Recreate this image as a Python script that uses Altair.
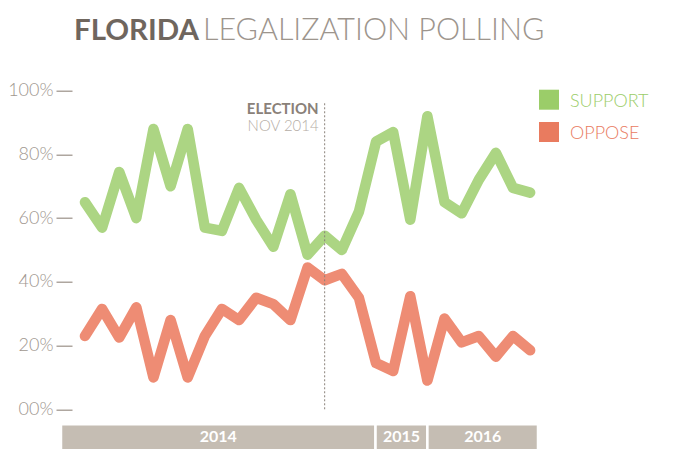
import altair as alt
import pandas as pd

# ---- data ----
poll_index = list(range(27))
support = [65, 57, 74.5, 60, 88, 70, 88, 57, 56, 69.5, 59.5, 51, 67.5, 48.5, 54.5,
           50, 62, 84, 87, 59.5, 92, 65, 61.5, 72, 80.5, 69.5, 68]
oppose = [23, 31.5, 22.5, 32, 10, 28, 10, 23, 31.5, 28, 35, 33, 28, 44.5, 40.5,
          42.5, 35, 14.5, 12, 35.5, 9, 28.5, 21, 23, 16.5, 23, 18.5]

years = ["2014", "2015", "2016"]
year_start = [-1.4, 16.97, 20.0]
year_end = [16.97, 20.0, 26.46]

election_index = 14
y_ticks = [0, 20, 40, 60, 80, 100]

GREEN_LINE = "#acd583"
RED_LINE = "#ee8c74"
GREEN = "#9bcd69"
RED = "#e97b5f"
BAR = "#c5bdb3"
FONT = "Lato"

df = pd.DataFrame({
    "i": poll_index * 2,
    "pct": support + oppose,
    "series": ["SUPPORT"] * 27 + ["OPPOSE"] * 27,
})
years_df = pd.DataFrame({"year": years, "start": year_start, "end": year_end,
                         "top": [-4.7] * 3, "bottom": [-14] * 3, "ty": [-10.3] * 3})
years_df["mid"] = (years_df["start"] + years_df["end"]) / 2
election_df = pd.DataFrame({"i": [election_index], "y0": [0], "y1": [96.5]})

xscale = alt.Scale(domain=[-1.4, 26.46], nice=False, zero=False)
yscale = alt.Scale(domain=[-12.5, 100], nice=False, zero=False)
yaxis = alt.Axis(values=y_ticks, tickSize=16, offset=-11, domain=False, grid=False,
                 tickColor="#9a9087", tickWidth=1.2, labelPadding=3,
                 labelFont=FONT, labelFontSize=18, labelFontWeight=300,
                 labelColor="#a0978f", title=None,
                 labelExpr="datum.value == 0 ? '00%' : datum.value + '%'")

lines = alt.Chart(df).mark_line(strokeWidth=10.5, strokeCap="round", strokeJoin="round").encode(
    x=alt.X("i:Q", scale=xscale, axis=None),
    y=alt.Y("pct:Q", scale=yscale, axis=yaxis),
    color=alt.Color("series:N", scale=alt.Scale(domain=["SUPPORT", "OPPOSE"],
                                                 range=[GREEN_LINE, RED_LINE]), legend=None),
    detail="series:N",
)

election_rule = alt.Chart(election_df).mark_rule(color="#8a8179", strokeDash=[2, 2], strokeWidth=1).encode(
    x=alt.X("i:Q", axis=None), y=alt.Y("y0:Q", axis=yaxis), y2="y1:Q"
)
election_t1 = alt.Chart(election_df).mark_text(
    text="ELECTION", align="right", baseline="alphabetic", dx=-6, font=FONT,
    fontSize=15, fontWeight="bold", color="#8a8179"
).encode(x=alt.X("i:Q", axis=None), y=alt.value(23.3))
election_t2 = alt.Chart(election_df).mark_text(
    text="NOV 2014", align="right", baseline="alphabetic", dx=-6, font=FONT,
    fontSize=15, fontWeight=300, color="#b5ada5"
).encode(x=alt.X("i:Q", axis=None), y=alt.value(40.3))

year_rects = alt.Chart(years_df).mark_rect(color=BAR, stroke="white", strokeWidth=2.5).encode(
    x=alt.X("start:Q", axis=None), x2="end:Q",
    y=alt.Y("top:Q", axis=yaxis), y2="bottom:Q"
)
year_text = alt.Chart(years_df).mark_text(
    font=FONT, fontSize=16, fontWeight="bold", color="white", baseline="alphabetic"
).encode(x=alt.X("mid:Q", axis=None), y=alt.Y("ty:Q", axis=yaxis), text="year:N")

title1 = alt.Chart(election_df).mark_text(
    text="FLORIDA", align="left", baseline="alphabetic", font=FONT, fontSize=29.5,
    fontWeight="bold", color="#6f665e"
).encode(x=alt.value(13), y=alt.value(-50.7))
title2 = alt.Chart(election_df).mark_text(
    text="LEGALIZATION POLLING", align="left", baseline="alphabetic", font=FONT, fontSize=30.5,
    fontWeight=300, color="#9d958d"
).encode(x=alt.value(142), y=alt.value(-50.7))

leg_sq1 = alt.Chart(election_df).mark_square(size=400, color=GREEN, opacity=1).encode(
    x=alt.value(488), y=alt.value(9))
leg_sq2 = alt.Chart(election_df).mark_square(size=400, color=RED, opacity=1).encode(
    x=alt.value(488), y=alt.value(41.3))
leg_t1 = alt.Chart(election_df).mark_text(
    text="SUPPORT", align="left", baseline="alphabetic", font=FONT, fontSize=18,
    fontWeight=300, color=GREEN).encode(x=alt.value(509), y=alt.value(16))
leg_t2 = alt.Chart(election_df).mark_text(
    text="OPPOSE", align="left", baseline="alphabetic", font=FONT, fontSize=18,
    fontWeight=300, color=RED).encode(x=alt.value(509), y=alt.value(48.3))

chart = alt.layer(
    lines, year_rects, year_text, election_rule, election_t1, election_t2,
    title1, title2, leg_sq1, leg_sq2, leg_t1, leg_t2
).properties(
    width=477, height=358.4,
    autosize=alt.AutoSizeParams(type="none"),
    padding={"left": 53, "top": 82.7, "right": 140, "bottom": 10},
).configure_view(stroke=None)

chart.save("out.html", embed_options={"renderer": "svg", "actions": False})
